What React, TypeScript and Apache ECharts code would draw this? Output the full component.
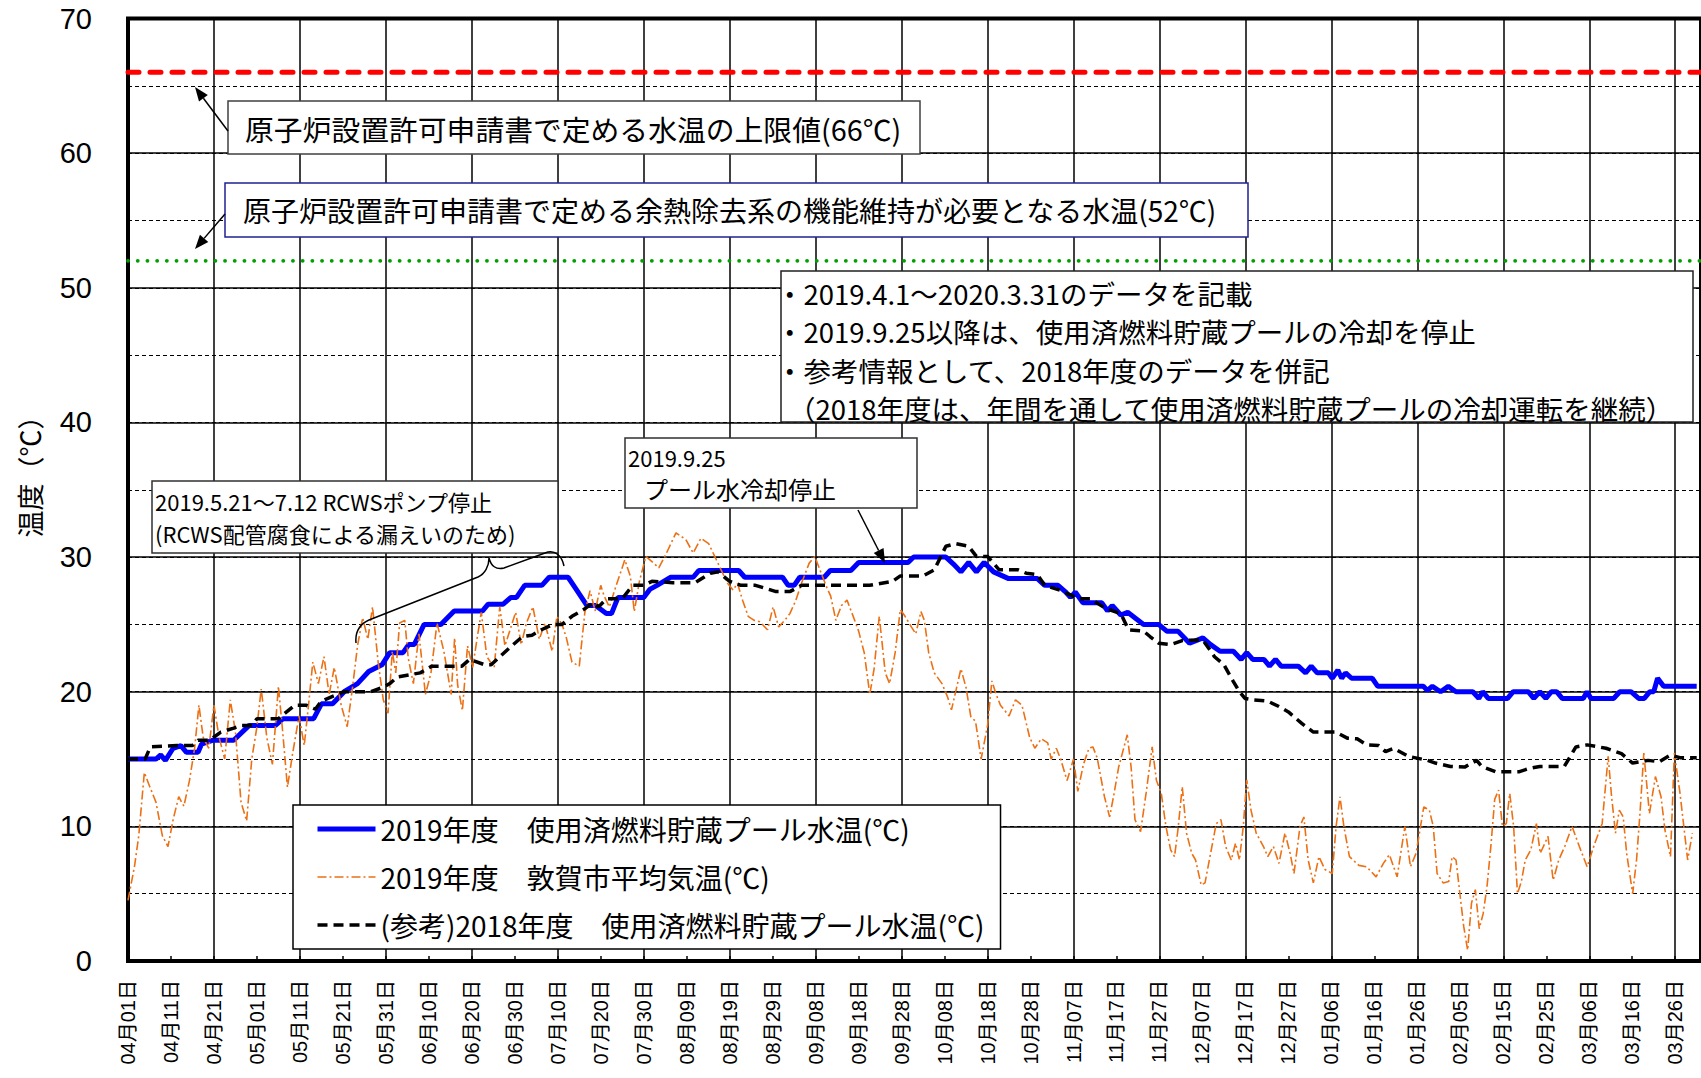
import React, { useEffect, useRef } from 'react';
import * as echarts from 'echarts';

// ---------------- data (x = days since 2019-04-01, y = °C) ----------------
const startDate = Date.UTC(2019, 3, 1);
const xMaxDays = 366;
const seriesNames = [
  '2019年度　使用済燃料貯蔵プール水温(℃)',
  '2019年度　敦賀市平均気温(℃)',
  '(参考)2018年度　使用済燃料貯蔵プール水温(℃)',
];
const limitUpper = 66;
const limitRHR = 52;

const pool2019: [number, number][] = [
  [0, 15.0], [6.5, 15.0], [7.6, 15.3], [8.7, 14.9], [10.5, 15.8], [12.3, 16.0], [13.6, 15.5], [16.3, 15.5],
  [17.1, 16.1], [19.8, 16.4], [24.6, 16.4], [28.2, 17.5], [34.3, 17.5], [36.1, 18.0], [43.2, 18.0], [45, 19.1],
  [47.6, 19.1], [50.3, 20.0], [53.4, 20.6], [56, 21.5], [59.1, 22.0], [60.9, 22.9], [64, 22.9], [65.3, 23.5],
  [66.6, 23.5], [68.9, 25.0], [72.8, 25.0], [75.9, 26.0], [82.5, 26.0], [83.8, 26.5], [87.3, 26.5], [89.1, 27.0],
  [90.4, 27.0], [92.3, 27.9], [96.3, 27.9], [98, 28.5], [102.4, 28.5], [104.1, 27.7], [106.8, 26.4], [108.8, 26.4],
  [111.3, 25.8], [112.5, 25.8], [114, 27.0], [120, 27.0], [121.4, 27.6], [123.1, 27.9], [126.2, 28.5], [131.5, 28.5],
  [132.8, 29.0], [142.1, 29.0], [143.5, 28.5], [152.3, 28.5], [153.6, 27.9], [155, 27.9], [156.3, 28.5], [162, 28.5],
  [163.4, 29.0], [168.2, 29.0], [170, 29.6], [181.5, 29.6], [182.8, 30.0], [190.3, 30.0], [192, 29.5], [193.8, 28.9],
  [195.6, 29.6], [197.4, 28.9], [199.2, 29.6], [201.4, 28.9], [204.9, 28.4], [211.6, 28.4], [213.3, 27.9], [216.4, 27.9],
  [218.2, 27.4], [219.3, 27.0], [220.4, 27.4], [222.2, 26.6], [226.6, 26.6], [227.9, 26.0], [229, 26.4], [231, 25.7],
  [232.6, 25.9], [236.3, 25.0], [239.8, 25.0], [241.7, 24.5], [244.3, 24.5], [247, 23.6], [250.1, 24.0], [251.9, 23.5],
  [254.1, 23.0], [257.2, 23.0], [259, 22.4], [260.3, 22.9], [261.7, 22.4], [264.3, 22.4], [265.6, 21.9], [267, 22.4],
  [268.3, 21.9], [272.3, 21.9], [274, 21.4], [275.3, 21.9], [276.7, 21.4], [279.3, 21.4], [280.2, 21.0], [281.5, 21.6],
  [282.4, 21.0], [283.3, 21.4], [284.7, 21.0], [289.5, 21.0], [290.8, 20.4], [301.4, 20.4], [302.3, 20.1], [303.5, 20.4],
  [305.4, 20.0], [307.2, 20.4], [309, 20.0], [312.9, 20.0], [314.3, 19.5], [315.2, 20.0], [316.5, 19.5], [321, 19.5],
  [322.3, 20.0], [325.8, 20.0], [327.1, 19.5], [328.5, 20.0], [329.9, 19.5], [331.2, 20.0], [332.4, 20.0], [333.7, 19.5],
  [338.6, 19.5], [339.5, 20.0], [340.4, 19.5], [345.7, 19.5], [347.1, 20.0], [349.7, 20.0], [351.5, 19.5], [352.8, 19.5],
  [354.1, 20.0], [355, 20.0], [355.9, 21.0], [357.3, 20.4], [365, 20.4],
];

const air2019: [number, number][] = [
  [0, 4.5], [1.5, 7], [2.5, 9.3], [3.8, 14.0], [5, 13.0], [6.5, 11.8], [8, 9.3], [9.3, 8.5], [10.5, 10.5], [11.8, 12.2],
  [13, 11.5], [14.3, 13.4], [15.5, 15.8], [16.5, 19.0], [17.5, 16.6], [18.8, 15.8], [20, 19.0], [21.2, 16.6], [22.5, 15.0],
  [23.8, 19.4], [25, 17.0], [26.3, 11.8], [27.6, 10.4], [28.8, 15.0], [30, 17.4], [31, 20.2], [32.3, 16.6], [33.6, 14.6],
  [35, 20.4], [36, 17.0], [37.1, 12.9], [38.3, 15.4], [39.8, 18.2], [41, 16.0], [42, 19.0], [43, 22.2], [44.3, 20.6],
  [45.6, 22.6], [46.8, 19.8], [48, 21.8], [49.6, 19.0], [51, 17.4], [52.2, 20.2], [53.4, 23.4], [54.6, 25.5], [55.8, 23.9],
  [56.9, 26.3], [58.2, 22.2], [59.4, 19.4], [60.5, 18.4], [61.5, 23.0], [62.3, 21.4], [63.2, 25.1], [64.4, 25.3],
  [65.2, 22.5], [66.4, 20.6], [67.7, 24.3], [69.2, 19.8], [70.5, 21.4], [71.9, 25.1], [73.5, 23.0], [75.2, 19.8],
  [76, 24.0], [76.7, 20.5], [77.8, 18.6], [79, 23.4], [80.2, 21.8], [81.2, 23.9], [82.2, 25.9], [83.5, 22.6], [85.2, 21.8],
  [86.5, 26.3], [87.7, 23.4], [89, 24.7], [90.2, 25.9], [91.5, 23.5], [92.7, 25.1], [94.2, 26.3], [95.7, 23.9], [97, 25.1],
  [98.7, 23.0], [99.8, 25.6], [101, 25.0], [102, 24.0], [103.3, 22.2], [105, 21.9], [106.3, 25.9], [107.5, 27.5],
  [108.7, 26.0], [110, 27.9], [110.8, 27.1], [112, 26.3], [113.5, 27.8], [115.6, 29.8], [116.9, 28.55], [117.8, 25.95],
  [119, 28.2], [120.5, 30.05], [122.3, 29.55], [123.5, 29.2], [125.3, 30.3], [127.5, 31.8], [129.8, 31.3], [131.5, 30.3],
  [133.3, 31.4], [135.1, 31.0], [136.9, 29.8], [138, 29.05], [139.5, 28.05], [140.8, 27.55], [141.8, 28.05], [143, 26.8],
  [144.3, 25.6], [145.7, 25.3], [147, 25.2], [148.8, 24.6], [150.1, 26.3], [151.4, 24.8], [152.8, 25.3], [154, 25.8],
  [155.4, 26.8], [156.7, 28.05], [158.5, 29.55], [159.8, 30.05], [161, 29.05], [162.5, 27.8], [163.5, 27.1], [164.7, 25.3],
  [166, 26.4], [167.3, 26.8], [168.5, 25.8], [170, 24.5], [171.3, 22.9], [172.6, 19.8], [173.6, 21.7], [174.8, 25.6],
  [176.2, 21.4], [177.2, 20.6], [178.5, 22.9], [179.7, 26.1], [180.8, 25.6], [182.3, 24.8], [183.3, 24.3], [184.5, 25.95],
  [185.3, 25.3], [186.3, 22.9], [187.6, 21.4], [189.4, 20.6], [190.7, 19.6], [191.6, 18.65], [192.8, 20.3], [193.8, 21.7],
  [195, 20.3], [196.1, 18.15], [197.2, 17.8], [198.5, 15.0], [200, 17.5], [201, 20.8], [202, 19.8], [203, 19.0],
  [205, 18.2], [206.5, 19.4], [208, 19.0], [209.8, 16.6], [211, 15.8], [212.5, 16.5], [214, 16.2], [214.8, 15.0],
  [216, 15.8], [217, 15.0], [218.5, 13.4], [220, 15.0], [221, 12.6], [222.3, 14.6], [223.6, 15.8], [224.5, 15.9],
  [225.5, 15.1], [227.2, 12.2], [228.4, 10.7], [229.3, 12.2], [230.5, 14.4], [232.5, 16.8], [233.4, 14.4], [234.3, 10.5],
  [235.6, 9.6], [236.9, 12.5], [238.3, 15.9], [239.3, 13.4], [240.4, 12.5], [241.5, 10.0], [242.6, 8.25], [243.5, 7.75],
  [244.3, 9.75], [245.3, 12.95], [246.3, 9.5], [247.5, 8.0], [248.4, 7.5], [249.7, 5.65], [250.6, 5.8], [251.9, 8.0],
  [253.2, 10.2], [254.3, 10.5], [255.4, 8.5], [256.7, 7.5], [257.7, 8.75], [258.6, 7.5], [259.5, 10.0], [260.3, 13.45],
  [261.3, 11.2], [262.5, 9.5], [264.2, 8.5], [265.2, 7.75], [266.5, 8.5], [267.8, 7.25], [269.2, 9.5], [270.4, 8.0],
  [271.3, 6.5], [272.7, 10.0], [273.6, 10.7], [274.6, 7.5], [275.8, 5.8], [277.1, 7.75], [278.5, 6.8], [280.2, 6.5],
  [281.1, 10.0], [282, 12.2], [282.9, 10.0], [284.2, 7.75], [286.4, 7.1], [288.2, 7.0], [290.4, 6.25], [292.1, 7.25],
  [293.5, 7.9], [295.3, 6.25], [297.1, 10.0], [298.4, 7.0], [299.7, 8.0], [301.5, 11.45], [302.8, 11.2], [303.7, 10.0],
  [304.6, 6.5], [306, 5.8], [307.3, 5.9], [308.1, 7.75], [309, 7.5], [309.9, 5.0], [310.8, 2.55], [311.7, 0.8],
  [312.6, 4.3], [313.5, 5.3], [314.4, 2.4], [315.3, 3.5], [316.2, 5.5], [317.1, 8.5], [318, 12.0], [318.9, 12.7],
  [319.8, 10.0], [320.7, 10.2], [321.5, 12.45], [322.4, 10.0], [323.3, 5.0], [324.2, 5.9], [325.1, 7.5], [326.4, 8.25],
  [327.7, 10.2], [328.6, 8.0], [330.4, 9.25], [331.6, 6.0], [332.9, 7.5], [334.3, 8.5], [336, 10.0], [337.7, 8.5],
  [339.5, 7.0], [341.3, 8.75], [343, 10.2], [344.4, 15.2], [345.2, 12.2], [346.1, 9.5], [347, 11.2], [347.9, 10.7],
  [348.7, 8.0], [350.1, 5.0], [351, 7.5], [351.8, 10.95], [352.7, 15.45], [354, 10.95], [355.4, 13.7], [356.7, 12.2],
  [357.6, 9.75], [358.9, 7.75], [359.8, 15.45], [361.1, 12.5], [362, 10.0], [362.9, 7.5], [364, 9.5],
];

const pool2018: [number, number][] = [
  [0, 15.0], [4, 15.0], [5.2, 15.9], [11.4, 16.0], [15, 16.0], [16.3, 16.4], [19, 16.4], [21.6, 17.0], [24.6, 17.3],
  [26.4, 17.5], [28.9, 17.5], [30, 18.0], [35, 18.0], [38.8, 19.0], [41.4, 19.0], [43.6, 18.7], [45, 19.3], [47.2, 19.6],
  [50.3, 20.0], [56.5, 20.0], [59.1, 20.3], [60.9, 20.6], [62.7, 21.1], [68, 21.4], [70.7, 21.9], [77.7, 21.9],
  [79.5, 22.4], [83, 22.0], [84.5, 22.0], [86.5, 22.6], [89.1, 23.35], [91.8, 24.1], [94, 24.2], [96.2, 24.6], [98.9, 25.0],
  [101, 25.0], [103.3, 25.6], [106, 26.1], [108.2, 26.6], [109.5, 26.3], [111.3, 26.9], [115, 26.9], [117.4, 27.9],
  [120, 27.9], [121.9, 28.2], [126.7, 28.1], [132, 28.1], [135.5, 28.8], [137.3, 28.9], [140, 28.2], [142.6, 27.9],
  [146, 27.9], [150.6, 27.45], [154.1, 27.45], [156.7, 27.9], [172.6, 27.9], [177.9, 28.2], [179.7, 28.6], [185, 28.6],
  [187.6, 29.05], [190.3, 30.8], [192.5, 31.0], [195.6, 30.8], [197.4, 30.05], [200, 30.05], [202.7, 29.05], [207.1, 29.05],
  [209, 28.8], [211.6, 28.7], [213.3, 27.9], [216.8, 27.55], [221.3, 26.9], [223.9, 26.9], [227.4, 26.2], [231, 25.8],
  [232.8, 24.6], [236.3, 24.5], [237.8, 24.1], [239.8, 23.6], [242.6, 23.5], [245.3, 23.8], [250.1, 23.85], [252.8, 22.6],
  [255, 22.0], [257.2, 20.75], [258.6, 20.0], [259.9, 19.5], [261.7, 19.4], [265.2, 19.3], [267.8, 18.9], [270, 18.5],
  [273.1, 17.65], [275.8, 17.0], [281, 17.0], [283.7, 16.55], [286, 16.5], [288.2, 16.05], [291, 16.0], [292.6, 15.55],
  [294.5, 15.8], [297.9, 15.2], [302.4, 14.9], [304.2, 14.7], [307.7, 14.45], [311, 14.4], [313.8, 14.9], [315, 14.45],
  [318.3, 14.05], [323.6, 14.05], [326, 14.3], [328.5, 14.45], [334.2, 14.45], [336.9, 15.9], [339.5, 16.05], [343.9, 15.8],
  [347.5, 15.4], [350.1, 14.7], [353.7, 14.9], [356.3, 14.8], [358.9, 15.3], [361.1, 15.1], [365, 15.1],
];

const noteLines = [
  '・2019.4.1～2020.3.31のデータを記載',
  '・2019.9.25以降は、使用済燃料貯蔵プールの冷却を停止',
  '・参考情報として、2018年度のデータを併記',
  '（2018年度は、年間を通して使用済燃料貯蔵プールの冷却運転を継続）',
];

// ---------------- helpers ----------------
const FONT_JP = '"Noto Sans CJK JP", "Noto Sans", sans-serif';
const FONT_NUM = '"Liberation Sans", Arial, "Noto Sans CJK JP", sans-serif';

let braceRegistered = false;
function registerBrace() {
  if (braceRegistered) return;
  braceRegistered = true;
  const d =
    'M356,643 C355,632 360,624 369,620 L478,577 C485,574 489,566 489,558 C491,566 496,570 504,568 L545,553 C555,549 562,556 564,566';
  echarts.graphic.registerShape('brace', echarts.graphic.extendPath(d, {}) as any);
}

const pad2 = (n: number) => (n < 10 ? '0' + n : '' + n);
const dayLabel = (v: number) => {
  const dt = new Date(startDate + Math.round(v) * 86400000);
  return pad2(dt.getUTCMonth() + 1) + '月' + pad2(dt.getUTCDate()) + '日';
};

const txt = (x: number, y: number, text: string, size: number) => ({
  type: 'text',
  x,
  y,
  z: 101,
  style: {
    text,
    fontSize: size,
    fontFamily: FONT_JP,
    fill: '#000',
    textAlign: 'left',
    textVerticalAlign: 'middle',
  },
});

const box = (x: number, y: number, w: number, h: number, stroke: string) => ({
  type: 'rect',
  z: 100,
  shape: { x, y, width: w, height: h },
  style: { fill: '#fff', stroke, lineWidth: 1.5 },
});

const arrow = (x1: number, y1: number, x2: number, y2: number) => {
  const ang = Math.atan2(y2 - y1, x2 - x1);
  const L = 14;
  const W = 5.5;
  const bx = x2 - L * Math.cos(ang);
  const by = y2 - L * Math.sin(ang);
  const px = -Math.sin(ang) * W;
  const py = Math.cos(ang) * W;
  return [
    { type: 'line', z: 100, shape: { x1, y1, x2: bx, y2: by }, style: { stroke: '#000', lineWidth: 1.5 } },
    {
      type: 'polygon',
      z: 100,
      shape: { points: [[x2, y2], [bx + px, by + py], [bx - px, by - py]] },
      style: { fill: '#000' },
    },
  ];
};

export default function App() {
  const ref = useRef<HTMLDivElement>(null);

  useEffect(() => {
    if (!ref.current) return;
    registerBrace();
    const chart = echarts.init(ref.current, undefined, { renderer: 'svg' });

    const graphics: any[] = [
      // y axis title
      {
        type: 'text',
        x: 29,
        y: 470,
        rotation: Math.PI / 2,
        z: 101,
        style: {
          text: '温度（℃）',
          fontSize: 27,
          fontFamily: FONT_JP,
          fill: '#000',
          textAlign: 'center',
          textVerticalAlign: 'middle',
        },
      },
      // 66 ℃ annotation
      box(228, 101, 692, 53, '#404040'),
      txt(245, 128, '原子炉設置許可申請書で定める水温の上限値(66℃)', 28.8),
      ...arrow(228, 131, 195, 87),
      // 52 ℃ annotation
      box(225, 183, 1023, 54, '#202090'),
      txt(243, 210, '原子炉設置許可申請書で定める余熱除去系の機能維持が必要となる水温(52℃)', 28),
      ...arrow(225, 214, 195, 249),
      // notes
      box(781, 271, 912, 151, '#202020'),
      txt(776, 293, noteLines[0], 27.5),
      txt(776, 331, noteLines[1], 27.5),
      txt(776, 370, noteLines[2], 27.5),
      txt(788, 408, noteLines[3], 27.5),
      // 2019.9.25 annotation
      box(625, 438, 292, 70, '#303030'),
      txt(628, 457, '2019.9.25', 22),
      txt(644, 488, 'プール水冷却停止', 24),
      ...arrow(858, 510, 885, 563),
      // RCWS annotation
      box(152, 481, 406, 72, '#303030'),
      txt(155, 501, '2019.5.21～7.12 RCWSポンプ停止', 22),
      txt(155, 533, '(RCWS配管腐食による漏えいのため)', 22),
      {
        type: 'brace',
        x: 0,
        y: 0,
        z: 100,
        style: { fill: 'none', stroke: '#000', lineWidth: 1.5 },
      },
    ];

    const option: any = {
      animation: false,
      backgroundColor: '#fff',
      grid: {
        left: 128,
        top: 18.5,
        width: xMaxDays * 4.33,
        height: 942.5,
        show: true,
        borderColor: '#000',
        borderWidth: 4,
        backgroundColor: 'transparent',
      },
      xAxis: [
        {
          type: 'value',
          min: 0,
          max: xMaxDays,
          interval: 10,
          axisLine: { show: false },
          axisTick: { show: true, inside: true, length: 5, lineStyle: { color: '#000', width: 1.5 } },
          splitLine: { show: false },
          axisLabel: {
            show: true,
            rotate: 90,
            margin: 19,
            fontSize: 20,
            color: '#000',
            fontFamily: FONT_NUM,
            showMaxLabel: false,
            formatter: (v: number) => dayLabel(v),
          },
        },
        {
          type: 'value',
          min: 0,
          max: xMaxDays,
          interval: 20,
          position: 'bottom',
          axisLine: { show: false },
          axisTick: { show: false },
          axisLabel: { show: false },
          splitLine: { show: true, lineStyle: { color: '#000', width: 1.5 } },
        },
      ],
      yAxis: [
        {
          type: 'value',
          min: 0,
          max: 70,
          interval: 5,
          axisLine: { show: false },
          axisTick: { show: false },
          axisLabel: { show: false },
          splitLine: { show: true, lineStyle: { color: '#000', width: 1, type: [4, 3] } },
        },
        {
          type: 'value',
          min: 0,
          max: 70,
          interval: 10,
          position: 'left',
          axisLine: { show: false },
          axisTick: { show: false },
          axisLabel: {
            show: true,
            margin: 36,
            fontSize: 29,
            color: '#000',
            fontFamily: FONT_NUM,
          },
          splitLine: { show: true, lineStyle: { color: '#000', width: 1.5 } },
        },
      ],
      legend: {
        orient: 'vertical',
        left: 293,
        top: 805,
        padding: [10, 16, 10, 22],
        itemWidth: 58,
        itemHeight: 26,
        itemGap: 20,
        backgroundColor: '#fff',
        borderColor: '#000',
        borderWidth: 1.5,
        borderRadius: 0,
        itemStyle: { opacity: 0 },
        textStyle: { fontSize: 28, fontFamily: FONT_JP, color: '#000' },
        data: [
          { name: seriesNames[0], lineStyle: { width: 5 } },
          { name: seriesNames[1], lineStyle: { width: 1.6 } },
          { name: seriesNames[2], lineStyle: { width: 3.5 } },
        ],
      },
      graphic: { elements: graphics },
      series: [
        {
          name: 'limit66',
          type: 'line',
          silent: true,
          symbol: 'none',
          data: [[0, limitUpper], [xMaxDays, limitUpper]],
          lineStyle: { color: '#FF0000', width: 5, type: [11, 11], cap: 'round' },
          z: 3,
        },
        {
          name: 'limit52',
          type: 'line',
          silent: true,
          symbol: 'none',
          data: [[0, limitRHR], [xMaxDays, limitRHR]],
          lineStyle: { color: '#00A000', width: 3.8, type: [0.1, 9.6], cap: 'round' },
          z: 3,
        },
        {
          name: seriesNames[0],
          type: 'line',
          symbol: 'none',
          data: pool2019,
          lineStyle: { color: '#0000FF', width: 5 },
          itemStyle: { color: '#0000FF' },
          z: 4,
        },
        {
          name: seriesNames[1],
          type: 'line',
          symbol: 'none',
          data: air2019,
          lineStyle: { color: '#EC7014', width: 1.6, type: [9, 3, 2, 3] },
          itemStyle: { color: '#EC7014' },
          z: 5,
        },
        {
          name: seriesNames[2],
          type: 'line',
          symbol: 'none',
          data: pool2018,
          lineStyle: { color: '#000000', width: 3.5, type: [10, 6] },
          itemStyle: { color: '#000000' },
          z: 6,
        },
      ],
    };

    chart.setOption(option);
    return () => chart.dispose();
  }, []);

  return (
    <div
      style={{ position: 'absolute', left: 0, top: 0, width: 1701, height: 1078, overflow: 'hidden', background: '#fff' }}
    >
      <div ref={ref} style={{ width: 1701, height: 1078 }} />
    </div>
  );
}
